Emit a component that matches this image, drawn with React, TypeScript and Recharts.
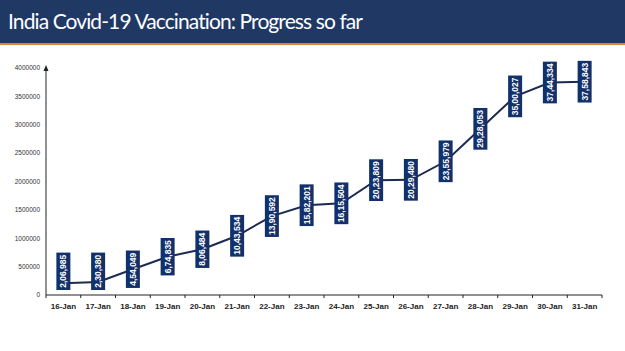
import React from "react";
import { LineChart, Line, XAxis, YAxis, LabelList } from "recharts";

const dates = [
  "16-Jan", "17-Jan", "18-Jan", "19-Jan", "20-Jan", "21-Jan", "22-Jan", "23-Jan",
  "24-Jan", "25-Jan", "26-Jan", "27-Jan", "28-Jan", "29-Jan", "30-Jan", "31-Jan",
];

const vaccinated = [
  206985, 230380, 454049, 674835, 806484, 1043534, 1390592, 1582201,
  1615504, 2023809, 2029480, 2355979, 2928053, 3500027, 3744334, 3758843,
];

const yTicks = [0, 500000, 1000000, 1500000, 2000000, 2500000, 3000000, 3500000, 4000000];

const data = dates.map((d, i) => ({ date: d, value: vaccinated[i] }));

const NAVY = "#1f3864";
const BOX = "#12306a";
const W = 625;
const H = 351;
const PLOT_LEFT = 46;
const PLOT_RIGHT = 602;
const PLOT_TOP = 68;
const PLOT_BOTTOM = 295;
const BAND = (PLOT_RIGHT - PLOT_LEFT) / dates.length;

// Indian digit grouping: 37,58,843
const formatIN = (n: number) => {
  const s = String(n);
  if (s.length <= 3) return s;
  const last3 = s.slice(-3);
  let rest = s.slice(0, -3);
  const parts: string[] = [];
  while (rest.length > 2) {
    parts.unshift(rest.slice(-2));
    rest = rest.slice(0, -2);
  }
  if (rest) parts.unshift(rest);
  return parts.join(",") + "," + last3;
};

const YTick = (props: any) => {
  const { x, y, payload } = props;
  const axisX = x + 6;
  return (
    <g>
      <text x={x} y={y} dy="0.35em" textAnchor="end" fontSize={6.5} fill="#333" fontFamily="Liberation Sans, Arial">
        {payload.value}
      </text>
      {payload.value === 4000000 && (
        <polygon points={`${axisX - 2.5},${y + 3} ${axisX + 2.5},${y + 3} ${axisX},${y - 3}`} fill="#222" />
      )}
    </g>
  );
};

const XTick = (props: any) => {
  const { x, y, payload, index } = props;
  const axisY = y - 8;
  return (
    <g>
      <line x1={x - BAND / 2} x2={x - BAND / 2} y1={axisY} y2={axisY + 3} stroke="#222" strokeWidth={1} />
      {index === dates.length - 1 && (
        <line x1={x + BAND / 2} x2={x + BAND / 2} y1={axisY} y2={axisY + 3} stroke="#222" strokeWidth={1} />
      )}
      <text x={x} y={y} dy="0.71em" textAnchor="middle" fontSize={8} fontWeight="bold" fill="#222" fontFamily="Liberation Sans, Arial">
        {payload.value}
      </text>
    </g>
  );
};

const ValueLabel = (props: any) => {
  const { x, y, value } = props;
  const text = formatIN(value);
  const h = text.length * 4.3 + 3;
  const w = 14;
  let cy = y;
  if (cy + h / 2 > PLOT_BOTTOM - 5) cy = PLOT_BOTTOM - 5 - h / 2;
  return (
    <g>
      <rect x={x - w / 2} y={cy - h / 2} width={w} height={h} fill={BOX} />
      <text
        x={x}
        y={cy}
        transform={`rotate(-90 ${x} ${cy})`}
        textAnchor="middle"
        dy="0.35em"
        fontSize={8.5}
        fontWeight="bold"
        fill="#fff"
        fontFamily="Liberation Sans, Arial"
      >
        {text}
      </text>
    </g>
  );
};

export default function App() {
  return (
    <div style={{ position: "absolute", left: 0, top: 0, width: W, height: H, background: "#fff", overflow: "hidden" }}>
      <div
        style={{
          position: "absolute",
          left: 0,
          top: 0,
          width: W,
          height: 43,
          background: NAVY,
          borderBottom: "2px solid #d9824a",
        }}
      >
        <div
          style={{
            position: "absolute",
            left: 8,
            top: 8,
            color: "#fff",
            fontFamily: "Lato, 'Open Sans', sans-serif",
            fontSize: 21,
            letterSpacing: -0.9,
            whiteSpace: "nowrap",
          }}
        >
          India Covid-19 Vaccination: Progress so far
        </div>
      </div>
      <div style={{ position: "absolute", left: 0, top: 0 }}>
        <LineChart
          width={W}
          height={H}
          data={data}
          margin={{ top: PLOT_TOP, right: W - PLOT_RIGHT, bottom: H - PLOT_BOTTOM - 20, left: 0 }}
        >
          <XAxis
            dataKey="date"
            scale="band"
            height={20}
            axisLine={{ stroke: "#222", strokeWidth: 1 }}
            tickLine={false}
            tickSize={0}
            tickMargin={8}
            interval={0}
            tick={<XTick />}
          />
          <YAxis
            width={PLOT_LEFT}
            domain={[0, 4000000]}
            ticks={yTicks}
            axisLine={{ stroke: "#222", strokeWidth: 1 }}
            tickLine={false}
            tickSize={0}
            tickMargin={6}
            interval={0}
            tick={<YTick />}
          />
          <Line
            dataKey="value"
            stroke="#1c2b4f"
            strokeWidth={2}
            dot={false}
            isAnimationActive={false}
          >
            <LabelList dataKey="value" content={<ValueLabel />} />
          </Line>
        </LineChart>
      </div>
    </div>
  );
}
